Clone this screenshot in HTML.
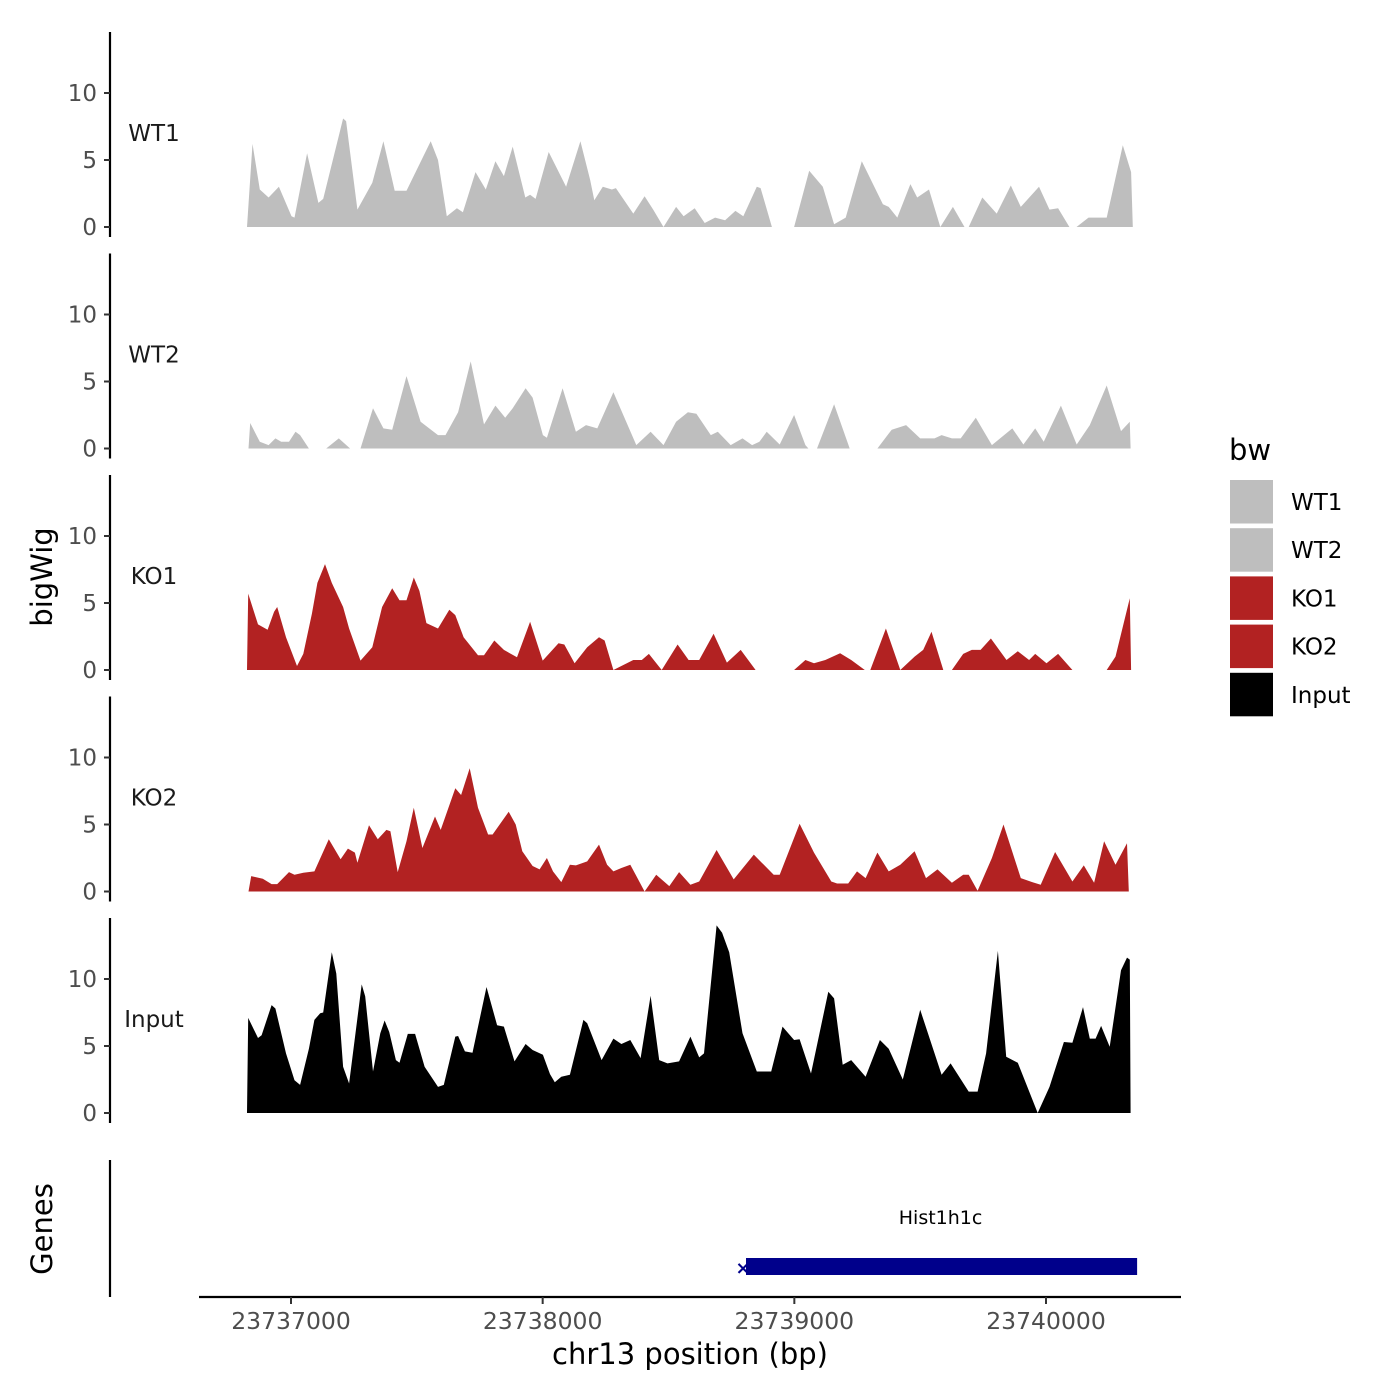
<!DOCTYPE html>
<html><head><meta charset="utf-8">
<style>
html,body{margin:0;padding:0;background:#fff;}
svg{display:block;font-family:"DejaVu Sans","Liberation Sans",sans-serif;}
</style></head>
<body>
<svg id="chart" width="1400" height="1400" viewBox="0 0 1400 1400" xmlns="http://www.w3.org/2000/svg">
<rect width="1400" height="1400" fill="#fff"/>
<g id="tracks"></g>
<g id="genes"></g>
<g id="xaxis"></g>
<text transform="translate(52,577) rotate(-90)" text-anchor="middle" font-size="29" fill="#000">bigWig</text>
<text transform="translate(52,1229) rotate(-90)" text-anchor="middle" font-size="29" fill="#000">Genes</text>
<text x="690" y="1364" text-anchor="middle" font-size="29" fill="#000">chr13 position (bp)</text>
<g id="legend"></g>
</svg>
<script>
const regionStart = 23736797;
const trackNames = ["WT1","WT2","KO1","KO2","Input"];
const trackColors = ["#bebebe","#bebebe","#b22222","#b22222","#000000"];
const yTicks = [0,5,10];
const xTicks = [23737000,23738000,23739000,23740000];
const xTickLabels = ["23737000","23738000","23739000","23740000"];
const geneName = "Hist1h1c";
const geneStart = 23738800;
const geneEnd = 23740362;

const wt1Pos = [28,50,79,114,155,205,217,267,312,331,376,410,422,467,526,570,615,662,758,787,822,862,886,936,977,1015,1049,1084,1134,1153,1175,1227,1296,1353,1392,1408,1442,1478,1494,1563,1608,1642,1683,1733,1763,1807,1847,1888,1928,1969,2000,2054,2069,2114,2202,2262,2316,2361,2407,2471,2555,2578,2612,2664,2691,2738,2783,2833,2879,2896,2950,3007,3063,3103,3175,3217,3251,3296,3324,3372,3444,3508,3541,3548];
const wt1Val = [0,6.2,2.8,2.2,3.0,0.8,0.7,5.5,1.8,2.1,5.5,8.1,7.9,1.3,3.3,6.4,2.7,2.7,6.4,5.0,0.8,1.4,1.1,4.1,2.8,4.9,3.8,6.0,2.2,2.4,2.1,5.6,3.0,6.4,3.5,2.0,3.0,2.8,2.9,1.0,2.3,1.3,0,1.5,0.8,1.4,0.3,0.7,0.5,1.2,0.8,3.0,2.9,0,0,4.2,3.0,0.2,0.7,4.9,1.7,1.5,0.7,3.2,2.2,2.8,0,1.5,0,0,2.2,1.0,3.1,1.5,3.0,1.3,1.4,0,0,0.7,0.7,6.1,4.1,0];

const wt2Pos = [34,41,79,114,141,164,195,221,239,274,343,393,438,479,529,570,605,662,718,787,817,867,917,970,1015,1054,1084,1135,1163,1204,1220,1282,1335,1375,1420,1484,1575,1632,1683,1733,1780,1814,1871,1899,1950,1997,2035,2064,2093,2145,2202,2247,2259,2293,2361,2423,2533,2590,2647,2703,2760,2788,2829,2864,2924,2988,3069,3113,3160,3194,3262,3325,3377,3444,3501,3536,3539];
const wt2Val = [0,1.9,0.5,0.25,0.75,0.5,0.5,1.25,1.0,0,0,0.75,0,0,3.0,1.5,1.4,5.4,2.0,1.0,1.0,2.7,6.5,1.8,3.2,2.3,3.0,4.5,3.8,1.0,0.8,4.5,1.25,1.75,1.5,4.2,0.25,1.25,0.25,2.0,2.7,2.6,1.0,1.25,0.25,0.75,0.25,0.5,1.25,0.3,2.5,0.25,0,0,3.3,0,0,1.4,1.75,0.75,0.75,1.0,0.75,0.75,2.3,0.25,1.5,0.3,1.5,0.5,3.2,0.3,1.75,4.7,1.3,2.0,0];

const ko1Pos = [28,33,72,110,136,148,183,227,252,286,308,338,365,410,434,479,526,565,605,634,662,691,713,741,787,832,856,889,946,970,1011,1049,1101,1153,1203,1266,1289,1330,1380,1427,1449,1484,1563,1597,1625,1676,1739,1783,1825,1882,1935,1990,2049,2202,2247,2281,2326,2385,2429,2483,2505,2567,2624,2681,2715,2748,2795,2829,2874,2908,2943,2984,3046,3091,3136,3160,3205,3251,3308,3444,3479,3536,3541];
const ko1Val = [0,5.7,3.4,3.0,4.35,4.7,2.45,0.3,1.2,4.2,6.5,7.9,6.5,4.7,3.1,0.7,1.7,4.7,6.1,5.2,5.2,6.9,5.9,3.5,3.1,4.5,4.1,2.45,1.1,1.1,2.2,1.5,0.95,3.6,0.7,2.0,1.9,0.5,1.7,2.45,2.2,0,0.75,0.75,1.2,0,1.9,0.75,0.75,2.7,0.55,1.5,0,0,0.75,0.5,0.75,1.25,0.75,0,0,3.1,0,1.0,1.5,2.85,0,0,1.2,1.5,1.5,2.35,0.75,1.4,0.75,1.2,0.5,1.2,0,0,1.0,5.35,0];

const ko2Pos = [34,45,91,126,148,195,217,252,296,353,400,429,457,467,513,548,582,598,627,662,691,725,775,798,856,879,913,946,986,1004,1068,1096,1122,1163,1191,1220,1244,1277,1311,1335,1380,1427,1459,1484,1516,1551,1608,1654,1706,1745,1790,1825,1894,1962,2042,2121,2145,2224,2281,2350,2373,2417,2452,2486,2533,2578,2624,2681,2726,2772,2829,2874,2896,2931,2988,3034,3103,3148,3182,3239,3308,3353,3394,3434,3479,3525,3532];
const ko2Val = [0,1.15,0.95,0.55,0.55,1.45,1.25,1.4,1.5,3.9,2.4,3.2,2.9,2.15,4.95,3.9,4.6,4.5,1.45,3.75,6.25,3.25,5.6,4.6,7.7,7.2,9.2,6.25,4.25,4.25,5.95,5.0,3.0,1.9,1.65,2.5,1.5,0.7,2.0,1.95,2.25,3.5,2.0,1.5,1.75,2.0,0,1.25,0.4,1.45,0.5,0.75,3.1,0.9,2.75,1.25,1.25,5.05,2.9,0.75,0.6,0.6,1.5,1.0,2.9,1.5,2.0,3.0,1.0,1.65,0.65,1.25,1.25,0.05,2.5,5.0,1.0,0.7,0.5,2.95,0.75,1.95,0.65,3.75,2.0,3.6,0];

const inputPos = [28,33,72,86,126,141,183,217,239,274,296,319,331,365,383,410,434,484,498,529,558,575,593,620,634,667,696,734,787,810,856,867,894,924,980,1022,1049,1091,1135,1163,1204,1232,1251,1277,1311,1365,1380,1437,1484,1516,1551,1592,1632,1666,1699,1745,1790,1825,1844,1894,1916,1944,1997,2054,2111,2156,2202,2224,2269,2338,2361,2395,2429,2486,2543,2578,2634,2703,2788,2824,2896,2931,2965,3012,3045,3091,3170,3217,3274,3308,3350,3377,3400,3422,3456,3501,3525,3536,3539];
const inputVal = [0,7.1,5.6,5.8,8.05,7.8,4.45,2.45,2.1,4.8,6.95,7.45,7.5,12.0,10.4,3.45,2.2,9.6,8.7,3.1,5.95,6.9,6.05,3.95,3.75,5.9,5.9,3.45,1.95,2.1,5.7,5.75,4.6,4.5,9.4,6.55,6.45,3.85,5.15,4.7,4.35,2.9,2.3,2.7,2.85,6.95,6.7,3.95,5.55,5.15,5.45,4.1,8.75,3.95,3.7,3.85,5.7,4.15,4.45,14.0,13.45,12.0,5.95,3.1,3.1,6.45,5.45,5.5,2.95,9.05,8.55,3.6,3.95,2.7,5.45,4.8,2.5,7.7,2.85,3.7,1.6,1.6,4.45,12.1,4.2,3.75,0,1.95,5.3,5.25,7.9,5.55,5.55,6.5,4.95,10.65,11.6,11.45,0];

const trackPos = [wt1Pos, wt2Pos, ko1Pos, ko2Pos, inputPos];
const trackVal = [wt1Val, wt2Val, ko1Val, ko2Val, inputVal];

const NS = "http://www.w3.org/2000/svg";
function mk(tag, attrs, parent){ const e=document.createElementNS(NS,tag); for(const k in attrs) e.setAttribute(k,attrs[k]); parent.appendChild(e); return e; }
function xScale(bp){ return 291 + (bp - 23737000) * 0.25167; }
const panelTop0 = 32, panelStep = 221.5, baseOff = 195, unitPx = 13.4;
function yScale(i, v){ return panelTop0 + panelStep*i + baseOff - v*unitPx; }

const tracks = document.getElementById('tracks');
for (let i=0;i<trackNames.length;i++){
  const g = mk('g',{},tracks);
  
  
  const top = panelTop0 + panelStep*i;
  const ax = mk('line',{x1:110,x2:110,y1:top,y2:top+205,stroke:'#000','stroke-width':2.2},g);
  
  
  for (const t of yTicks){
    const y = yScale(i,t);
    const tk = mk('line',{x1:104,x2:110,y1:y,y2:y,stroke:'#333','stroke-width':2},g);
    
    
    const tl = mk('text',{x:97,y:y+8,'text-anchor':'end','font-size':23,fill:'#4d4d4d'},g);
    tl.textContent = String(t);
    
    
  }
  const lab = mk('text',{x:154,y:yScale(i,7)+8,'text-anchor':'middle','font-size':23,fill:'#1a1a1a'},g);
  lab.textContent = trackNames[i];
  
  
  const pos = trackPos[i], val = trackVal[i];
  let d = 'M' + xScale(regionStart+pos[0]).toFixed(1) + ',' + yScale(i,0).toFixed(1);
  for (let k=0;k<pos.length;k++) d += 'L' + xScale(regionStart+pos[k]).toFixed(1) + ',' + yScale(i,val[k]).toFixed(1);
  d += 'L' + xScale(regionStart+pos[pos.length-1]).toFixed(1) + ',' + yScale(i,0).toFixed(1) + 'Z';
  const area = mk('path',{d:d,fill:trackColors[i],stroke:'none'},g);
  
  
}

const genes = document.getElementById('genes');
const gAx = mk('line',{x1:110,x2:110,y1:1160,y2:1297,stroke:'#000','stroke-width':2.2},genes);


const gx1 = xScale(geneStart), gx2 = xScale(geneEnd);
const gRect = mk('rect',{x:gx1+2,y:1258,width:gx2-gx1-2,height:17,fill:'#00008b'},genes);


const gMark = mk('text',{x:gx1-1,y:1274,'text-anchor':'middle','font-size':18,fill:'#00008b','font-weight':'bold'},genes);
gMark.textContent = '×';


const gLab = mk('text',{x:(gx1+gx2)/2,y:1224,'text-anchor':'middle','font-size':19,fill:'#000'},genes);
gLab.textContent = geneName;



const xa = document.getElementById('xaxis');
const xl = mk('line',{x1:199,x2:1181,y1:1297,y2:1297,stroke:'#000','stroke-width':2.2},xa);


for (let k=0;k<xTicks.length;k++){
  const x = xScale(xTicks[k]);
  const tk = mk('line',{x1:x,x2:x,y1:1297,y2:1304,stroke:'#333','stroke-width':2},xa);
  
  
  const tl = mk('text',{x:x,y:1329,'text-anchor':'middle','font-size':23.5,fill:'#4d4d4d'},xa);
  tl.textContent = xTickLabels[k];
  
  
}

const lg = document.getElementById('legend');
const lt = mk('text',{x:1229,y:460,'font-size':29,fill:'#000'},lg);
lt.textContent = 'bw';


for (let i=0;i<trackNames.length;i++){
  const y = 480 + i*48.2;
  const key = mk('rect',{x:1230,y:y,width:43,height:43.5,fill:trackColors[i]},lg);
  
  
  const t = mk('text',{x:1291,y:y+30,'font-size':23,fill:'#000'},lg);
  t.textContent = trackNames[i];
  
  
}
</script>
</body></html>
